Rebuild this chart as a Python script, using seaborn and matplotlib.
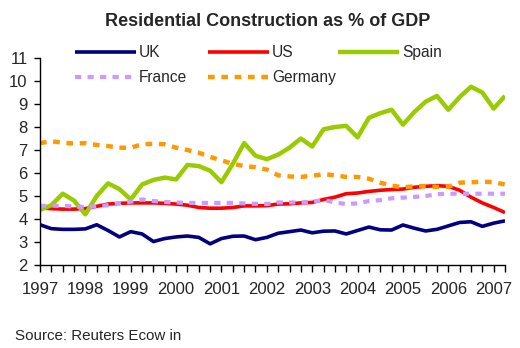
import numpy as np
import pandas as pd
import matplotlib
matplotlib.use("Agg")
import matplotlib.pyplot as plt
import seaborn as sns

# quarterly observations, 1997Q1 .. 2007Q2
quarters = [1997 + i / 4 for i in range(42)]

uk = [3.75, 3.58, 3.55, 3.55, 3.57, 3.75, 3.50, 3.22, 3.45, 3.35,
      3.02, 3.15, 3.22, 3.26, 3.20, 2.92, 3.15, 3.25, 3.26, 3.10,
      3.20, 3.38, 3.45, 3.52, 3.40, 3.47, 3.48, 3.35, 3.50, 3.65,
      3.53, 3.52, 3.74, 3.60, 3.48, 3.55, 3.70, 3.85, 3.88, 3.68,
      3.82, 3.92]
us = [4.48, 4.45, 4.43, 4.43, 4.45, 4.55, 4.65, 4.68, 4.70, 4.70,
      4.70, 4.68, 4.65, 4.60, 4.50, 4.47, 4.47, 4.50, 4.57, 4.57,
      4.58, 4.65, 4.66, 4.70, 4.72, 4.85, 4.95, 5.10, 5.13, 5.20,
      5.25, 5.28, 5.30, 5.38, 5.42, 5.45, 5.42, 5.25, 4.95, 4.70,
      4.50, 4.28]
spain = [4.40, 4.60, 5.10, 4.80, 4.20, 5.00, 5.55, 5.30, 4.85, 5.50,
         5.70, 5.80, 5.72, 6.35, 6.30, 6.10, 5.60, 6.40, 7.30, 6.75,
         6.60, 6.80, 7.10, 7.50, 7.15, 7.90, 8.00, 8.05, 7.55, 8.40,
         8.60, 8.75, 8.10, 8.65, 9.10, 9.35, 8.75, 9.30, 9.75, 9.50,
         8.80, 9.35]
france = [4.57, 4.58, 4.57, 4.55, 4.52, 4.55, 4.60, 4.68, 4.75, 4.85,
          4.78, 4.74, 4.72, 4.70, 4.70, 4.70, 4.70, 4.70, 4.68, 4.66,
          4.65, 4.72, 4.72, 4.72, 4.75, 4.83, 4.72, 4.65, 4.68, 4.78,
          4.82, 4.90, 4.93, 4.96, 5.00, 5.08, 5.10, 5.10, 5.10, 5.10,
          5.10, 5.10]
germany = [7.30, 7.38, 7.32, 7.28, 7.30, 7.22, 7.17, 7.10, 7.10, 7.25,
           7.27, 7.25, 7.10, 7.00, 6.88, 6.70, 6.55, 6.40, 6.30, 6.25,
           6.15, 5.90, 5.85, 5.83, 5.88, 5.95, 5.90, 5.83, 5.83, 5.75,
           5.58, 5.45, 5.38, 5.42, 5.43, 5.40, 5.40, 5.58, 5.60, 5.62,
           5.60, 5.50]

year_labels = [str(y) for y in range(1997, 2008)]
title = "Residential Construction as % of GDP"
source = "Source: Reuters Ecow in"

series = {"UK": uk, "US": us, "Spain": spain, "France": france, "Germany": germany}
colors = {"UK": "#000080", "US": "#FF0000", "Spain": "#99CC00",
          "France": "#CC99FF", "Germany": "#FF9900"}
widths = {"UK": 2.6, "US": 2.6, "Spain": 3.2, "France": 3.0, "Germany": 3.2}
dashed = {"UK": False, "US": False, "Spain": False, "France": True, "Germany": True}

sns.set_style("white")
plt.rcParams["font.family"] = ["Liberation Sans", "DejaVu Sans"]

fig = plt.figure(figsize=(5.2, 3.48), dpi=100)
ax = fig.add_axes([40 / 520, 1 - 265 / 348, 465 / 520, 207 / 348])

handles = {}
for name, vals in series.items():
    df = pd.DataFrame({"x": quarters, "y": vals})
    sns.lineplot(data=df, x="x", y="y", ax=ax, color=colors[name],
                 linewidth=widths[name], legend=False)
    ln = ax.lines[-1]
    ln.set_solid_capstyle("butt")
    if dashed[name]:
        ln.set_dashes((1.5, 1.5))
        ln.set_dash_capstyle("butt")
    handles[name] = ln

ax.set_xlim(1997, 1997 + 41 / 4)
ax.set_ylim(2, 11)
ax.set_yticks(range(2, 12))
ax.set_xticks(range(1997, 2008))
ax.set_xticklabels(year_labels)
ax.set_xticks(quarters, minor=True)
ax.set_xlabel("")
ax.set_ylabel("")
for s in ["top", "right"]:
    ax.spines[s].set_visible(False)
for s in ["left", "bottom"]:
    ax.spines[s].set_color("black")
    ax.spines[s].set_linewidth(1.0)
ax.tick_params(axis="y", which="major", direction="out", length=4, width=1,
               color="black", labelsize=12, pad=5, left=True)
ax.tick_params(axis="x", which="both", direction="out", length=5, width=1,
               color="black", labelsize=12, pad=7, bottom=True)

# legend: three columns placed like the original
cols = [(["UK", "France"], 75), (["US", "Germany"], 208), (["Spain"], 338)]
for names, xpx in cols:
    leg = fig.legend([handles[n] for n in names], names,
                     loc="upper left", bbox_to_anchor=(xpx / 520, 1 - 45 / 348),
                     frameon=False, fontsize=11.2, handlelength=3.9,
                     handletextpad=0.2, labelspacing=0.65,
                     borderpad=0, borderaxespad=0)

fig.text(0.514, 1 - 22 / 348, title, ha="center", va="center",
         fontsize=13, fontweight="bold")
fig.text(15 / 520, 1 - 336 / 348, source, ha="left", va="center", fontsize=10.9)

fig.savefig("out.png", dpi=100)
